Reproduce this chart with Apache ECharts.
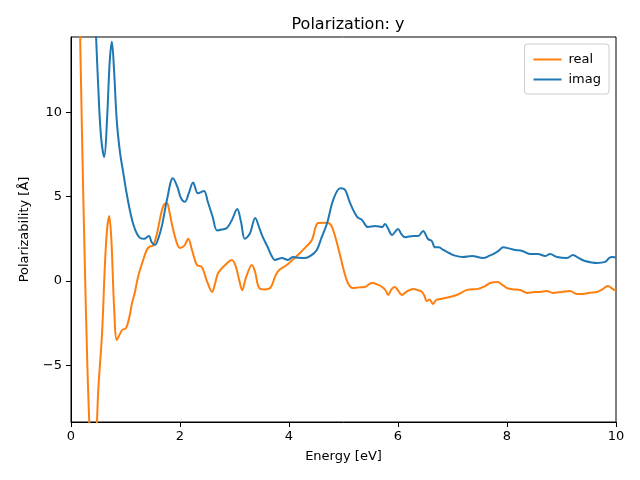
<!DOCTYPE html>
<html>
<head>
<meta charset="utf-8">
<script src="https://cdn.jsdelivr.net/npm/echarts@6/dist/echarts.min.js"></script>
<style>html,body{margin:0;padding:0;background:#fff;}#c{width:640px;height:480px;}</style>
</head>
<body>
<div id="c"></div>
<script>
const realE = [0.10,0.15,0.20,0.25,0.30,0.35,0.40,0.45,0.50,0.57,0.62,0.66,0.70,0.74,0.79,0.84,0.89,0.94,1.01,1.08,1.12,1.17,1.23,1.30,1.39,1.45,1.50,1.58,1.64,1.70,1.76,1.80,1.85,1.91,1.96,2.00,2.08,2.15,2.22,2.31,2.40,2.50,2.59,2.64,2.70,2.83,2.95,3.02,3.09,3.14,3.21,3.32,3.38,3.45,3.56,3.66,3.75,3.82,3.96,4.08,4.20,4.32,4.42,4.53,4.63,4.72,4.79,4.90,5.00,5.08,5.17,5.28,5.39,5.52,5.62,5.71,5.77,5.82,5.88,5.94,6.00,6.07,6.17,6.28,6.37,6.44,6.48,6.53,6.58,6.64,6.70,6.80,6.95,7.10,7.27,7.47,7.60,7.69,7.83,7.90,8.00,8.12,8.24,8.37,8.50,8.61,8.73,8.84,9.00,9.16,9.28,9.39,9.52,9.65,9.75,9.85,9.93,10.0];
const realV = [30,18,9,1.5,-5,-9.5,-12,-10.5,-6.5,-3.1,0.8,3.0,3.86,2.5,-1.5,-3.5,-3.2,-2.9,-2.8,-2.0,-1.3,-0.7,0.24,1.0,1.84,2.05,2.08,2.85,3.8,4.5,4.63,4.2,3.4,2.6,2.1,1.96,2.1,2.5,1.84,0.95,0.83,-0.06,-0.65,-0.2,0.47,0.95,1.25,0.9,0.0,-0.55,0.2,0.95,0.5,-0.4,-0.5,-0.4,0.3,0.65,0.95,1.3,1.66,2.05,2.43,3.44,3.46,3.44,3.2,2.0,0.7,-0.12,-0.42,-0.38,-0.36,-0.12,-0.2,-0.36,-0.55,-0.83,-0.5,-0.36,-0.55,-0.83,-0.6,-0.47,-0.55,-0.65,-0.85,-1.19,-1.1,-1.37,-1.13,-1.05,-0.95,-0.8,-0.53,-0.47,-0.3,-0.12,-0.06,-0.2,-0.42,-0.5,-0.53,-0.71,-0.66,-0.65,-0.59,-0.71,-0.65,-0.59,-0.77,-0.77,-0.7,-0.65,-0.5,-0.3,-0.45,-0.59];
const imagE = [0.30,0.40,0.46,0.50,0.55,0.61,0.66,0.71,0.75,0.79,0.84,0.90,0.95,1.01,1.08,1.14,1.21,1.27,1.34,1.43,1.48,1.54,1.60,1.67,1.76,1.87,1.95,2.02,2.09,2.16,2.24,2.33,2.44,2.51,2.60,2.68,2.77,2.86,2.95,3.05,3.12,3.19,3.28,3.38,3.46,3.52,3.61,3.68,3.74,3.87,3.98,4.07,4.18,4.29,4.40,4.51,4.60,4.70,4.81,4.94,5.03,5.12,5.25,5.34,5.45,5.58,5.71,5.76,5.82,5.89,6.00,6.06,6.13,6.28,6.37,6.46,6.55,6.62,6.68,6.75,6.83,6.94,7.01,7.19,7.36,7.56,7.68,7.78,7.85,7.93,8.05,8.15,8.28,8.42,8.57,8.70,8.79,8.92,9.10,9.21,9.32,9.43,9.65,9.80,9.88,9.93,10.0];
const imagV = [26,19,14.5,11.5,8.6,7.36,9.5,13,14.2,12.5,9.5,7.6,6.6,5.4,4.2,3.4,2.8,2.55,2.5,2.67,2.3,2.14,2.5,3.3,4.8,6.1,5.6,4.9,4.7,5.2,5.85,5.2,5.34,4.7,3.8,3.0,3.05,3.15,3.6,4.27,3.5,2.5,2.8,3.74,3.1,2.6,2.0,1.5,1.25,1.36,1.25,1.42,1.38,1.36,1.5,1.84,2.6,3.44,4.8,5.5,5.4,4.63,3.8,3.62,3.2,3.26,3.2,3.38,3.1,2.73,3.09,2.8,2.6,2.67,2.67,2.97,2.49,2.37,2.0,2.0,1.84,1.66,1.54,1.42,1.48,1.36,1.5,1.66,1.8,2.0,1.92,1.84,1.78,1.6,1.6,1.48,1.6,1.42,1.36,1.54,1.35,1.19,1.07,1.13,1.38,1.42,1.4];
const xTicks = [0,2,4,6,8,10];
const yTicks = [-5,0,5,10];
const yMin = -8.37, yMax = 14.48;

const zip = (a,b) => a.map((v,i)=>[v,b[i]]);
const fmt = v => (v<0 ? '\u2212'+Math.abs(v) : String(v));
const FONT = 'DejaVu Sans';
const chart = echarts.init(document.getElementById('c'), null, {renderer:'canvas'});
chart.setOption({
  animation:false,
  backgroundColor:'#fff',
  title:{text:'Polarization: y', left:343, textAlign:'center', top:12,
    textStyle:{fontFamily:FONT,fontSize:16,fontWeight:'normal',color:'#000'}},
  grid:{left:71,right:24,top:37,bottom:58,show:true,borderColor:'#000',borderWidth:1,backgroundColor:'transparent'},
  legend:{right:31,top:44,orient:'vertical',itemWidth:28,itemHeight:2,itemGap:7,
    padding:[9,8,8,9],backgroundColor:'rgba(255,255,255,0.8)',borderColor:'#cccccc',borderWidth:1,borderRadius:3,
    icon:'rect',
    textStyle:{fontFamily:FONT,fontSize:13,color:'#000',padding:[0,0,0,2]},
    data:['real','imag']},
  xAxis:{type:'value',min:0,max:10,
    name:'Energy [eV]',nameLocation:'middle',nameGap:28,
    nameTextStyle:{fontFamily:FONT,fontSize:13,color:'#000'},
    axisLine:{show:true,onZero:false,lineStyle:{color:'#000',width:1}},
    axisTick:{show:true,inside:false,length:5,lineStyle:{color:'#000'},customValues:xTicks},
    axisLabel:{fontFamily:FONT,fontSize:13,color:'#000',margin:8,customValues:xTicks,formatter:fmt},
    splitLine:{show:false}},
  yAxis:{type:'value',min:yMin,max:yMax,
    name:'Polarizability [Å]',nameLocation:'middle',nameGap:40,
    nameTextStyle:{fontFamily:FONT,fontSize:13,color:'#000'},
    axisLine:{show:true,onZero:false,lineStyle:{color:'#000',width:1}},
    axisTick:{show:true,inside:false,length:5,lineStyle:{color:'#000'},customValues:yTicks},
    axisLabel:{fontFamily:FONT,fontSize:13,color:'#000',margin:9,customValues:yTicks,formatter:fmt},
    splitLine:{show:false}},
  series:[
    {name:'real',type:'line',data:zip(realE,realV),smooth:0.35,showSymbol:false,symbol:'none',clip:true,
      lineStyle:{color:'#ff7f0e',width:2},itemStyle:{color:'#ff7f0e'}},
    {name:'imag',type:'line',data:zip(imagE,imagV),smooth:0.35,showSymbol:false,symbol:'none',clip:true,
      lineStyle:{color:'#1f77b4',width:2},itemStyle:{color:'#1f77b4'}}
  ]
});
</script>
</body>
</html>
